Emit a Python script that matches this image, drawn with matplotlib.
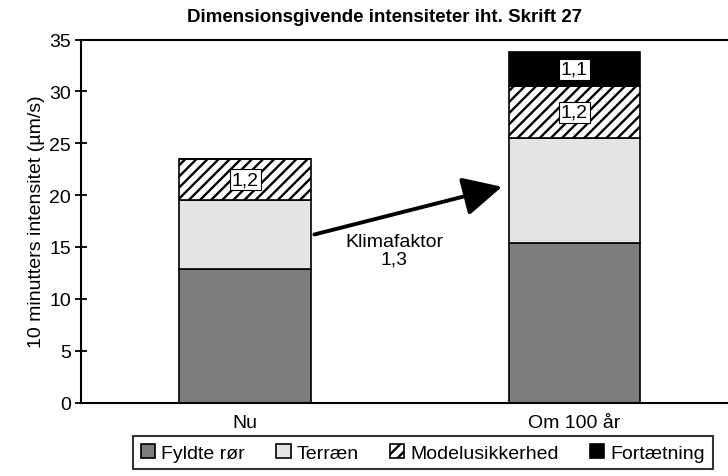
import numpy as np
import matplotlib.pyplot as plt

plt.rcParams['font.family'] = ['Liberation Sans', 'DejaVu Sans']
plt.rcParams['hatch.linewidth'] = 1.7

# Data
categories = ["Nu", "Om 100 år"]
fyldte = [12.9, 15.4]
terraen = [6.6, 10.1]
model = [4.0, 5.0]
fortaet = [0.0, 3.3]
model_factor = ["1,2", "1,2"]
fortaet_factor = ["", "1,1"]
klima_label = "Klimafaktor\n1,3"

fig = plt.figure(figsize=(7.28, 4.77), dpi=100)
W, H = 728, 477
ax = fig.add_axes([80.7 / W, 1 - 403.5 / H, (739 - 80.7) / W, (403.5 - 40.5) / H])

x = np.arange(len(categories))
width = 0.4
b1 = np.array(fyldte)
b2 = b1 + np.array(terraen)
b3 = b2 + np.array(model)

ax.bar(x, fyldte, width, color='#7d7d7d', edgecolor='black', lw=1.2, label='Fyldte rør')
ax.bar(x, terraen, width, bottom=b1, color='#e4e4e4', edgecolor='black', lw=1.2, label='Terræn')
ax.bar(x, model, width, bottom=b2, color='white', edgecolor='black', hatch='///', lw=1.2,
       label='Modelusikkerhed')
ax.bar(x, fortaet, width, bottom=b3, color='black', edgecolor='black', lw=1.2, label='Fortætning')

box = dict(boxstyle='square,pad=0.1', fc='white', ec='black', lw=0.8)
for i in range(len(categories)):
    ax.text(x[i], b2[i] + model[i] / 2, model_factor[i], ha='center', va='center',
            fontsize=14, bbox=box)
    if fortaet[i] > 0:
        ax.text(x[i], b3[i] + fortaet[i] / 2, fortaet_factor[i], ha='center', va='center',
                fontsize=14, bbox=box)

# Klimafaktor pil
ax.annotate("", xy=(0.78, 20.8), xytext=(0.21, 16.2),
            arrowprops=dict(arrowstyle='-|>,head_length=1.0,head_width=0.5', lw=2.8,
                            color='black', mutation_scale=24, shrinkA=0, shrinkB=0))
ax.text(0.452, 14.7, klima_label, ha='center', va='center', fontsize=14, linespacing=1.05)

ax.set_xlim(-0.5, 1.5)
ax.set_ylim(0, 35)
ax.set_yticks(range(0, 36, 5))
ax.set_xticks(x)
ax.set_xticklabels(categories, fontsize=14)
ax.tick_params(axis='y', labelsize=14, direction='inout', length=8, width=1.3, pad=3)
ax.tick_params(axis='x', length=0, pad=8)
for s in ['left', 'bottom', 'top']:
    ax.spines[s].set_linewidth(1.5)
ax.spines['right'].set_visible(False)
ax.set_ylabel('10 minutters intensitet (µm/s)', fontsize=14, labelpad=3)

fig.text(385 / W, 1 - 18 / H, 'Dimensionsgivende intensiteter iht. Skrift 27',
         ha='center', va='center', fontsize=13.5, fontweight='bold')

leg = fig.legend(loc='upper left', bbox_to_anchor=(133 / W, 1 - 437 / H), ncol=4,
                 fontsize=14, frameon=True, fancybox=False, edgecolor='black',
                 handlelength=0.75, handleheight=0.75, handletextpad=0.3,
                 columnspacing=1.6, borderpad=0.4, borderaxespad=0)
leg.get_frame().set_linewidth(1.5)

fig.savefig('out.png', dpi=100)
